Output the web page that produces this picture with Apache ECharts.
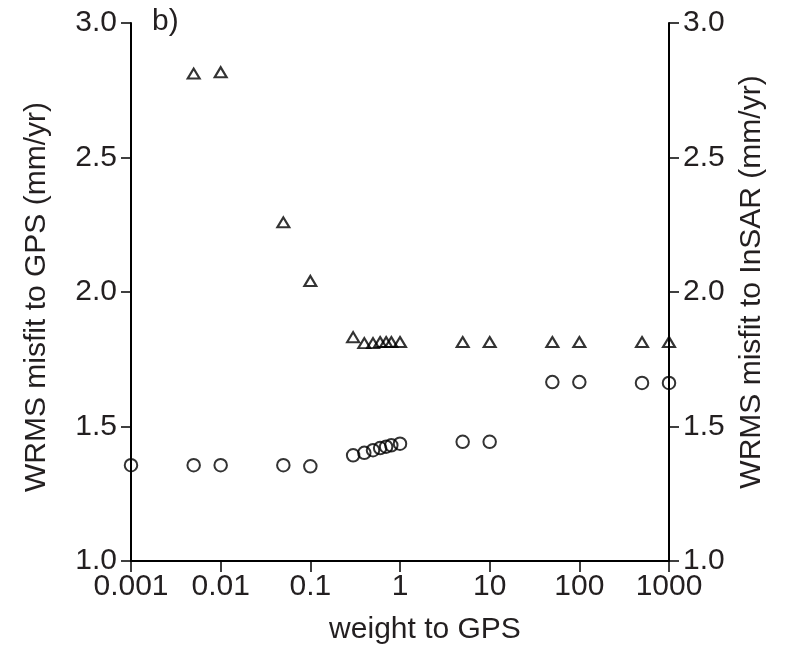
<!DOCTYPE html>
<html>
<head>
<meta charset="utf-8">
<script src="https://cdn.jsdelivr.net/npm/echarts@6/dist/echarts.min.js"></script>
<style>
  html, body { margin: 0; padding: 0; background: #fff; }
  #chart { width: 789px; height: 659px; }
</style>
</head>
<body>
<div id="chart"></div>
<script>
// GPS weights tried in the inversion
const circleWeights = [0.001, 0.005, 0.01, 0.05, 0.1, 0.3, 0.4, 0.5, 0.6, 0.7, 0.8, 1, 5, 10, 50, 100, 500, 1000];
// WRMS misfit to GPS (mm/yr), circles
const gpsMisfit = [1.356, 1.356, 1.356, 1.356, 1.352, 1.393, 1.402, 1.412, 1.420, 1.425, 1.430, 1.436, 1.443, 1.443, 1.665, 1.665, 1.662, 1.662];

const triangleWeights = [0.005, 0.01, 0.05, 0.1, 0.3, 0.4, 0.5, 0.6, 0.7, 0.8, 1, 5, 10, 50, 100, 500, 1000];
// WRMS misfit to InSAR (mm/yr), triangles
const insarMisfit = [2.812, 2.817, 2.259, 2.041, 1.832, 1.810, 1.810, 1.814, 1.814, 1.814, 1.814, 1.814, 1.814, 1.814, 1.814, 1.814, 1.814];

const xTickLabels = { '0.001': '0.001', '0.01': '0.01', '0.1': '0.1', '1': '1', '10': '10', '100': '100', '1000': '1000' };

const FONT = 'Liberation Sans, Arial, sans-serif';
const FS = 30;
const INK = '#231f20';

function pairs(xs, ys) { return xs.map((x, i) => [x, ys[i]]); }

function yAxisDef(pos, name, gap, namePad) {
  return {
    type: 'value',
    position: pos,
    min: 1, max: 3, interval: 0.5,
    name: name,
    nameLocation: 'middle',
    nameGap: gap,
    nameTextStyle: { fontFamily: FONT, fontSize: FS, color: INK, padding: namePad },
    axisLine: { show: true, lineStyle: { color: '#000', width: 2 } },
    axisTick: { show: true, inside: false, length: 10, lineStyle: { color: '#000', width: 1.5 } },
    axisLabel: { fontFamily: FONT, fontSize: FS, color: INK, margin: 14,
                 formatter: v => v.toFixed(1) },
    splitLine: { show: false }
  };
}

const chart = echarts.init(document.getElementById('chart'), null, { renderer: 'canvas' });
chart.setOption({
  backgroundColor: '#fff',
  animation: false,
  grid: { left: 131, right: 120, top: 23, bottom: 98, containLabel: false },
  xAxis: {
    type: 'log', logBase: 10, min: 0.001, max: 1000,
    name: 'weight to GPS',
    nameLocation: 'middle',
    nameGap: 54,
    nameTextStyle: { fontFamily: FONT, fontSize: FS, color: INK, padding: [0, 0, 0, 50] },
    axisLine: { show: true, lineStyle: { color: '#000', width: 2 } },
    axisTick: { show: true, length: 11, lineStyle: { color: '#000', width: 1.5 } },
    minorTick: { show: false },
    axisLabel: { fontFamily: FONT, fontSize: FS, color: INK, margin: 11,
                 formatter: v => {
                   const k = String(+v.toPrecision(3));
                   return xTickLabels[k] !== undefined ? xTickLabels[k] : k;
                 } },
    splitLine: { show: false }
  },
  yAxis: [
    yAxisDef('left', 'WRMS misfit to GPS (mm/yr)', 79, [0, 10, 0, 0]),
    yAxisDef('right', 'WRMS misfit to InSAR (mm/yr)', 68, [0, 0, 0, 20])
  ],
  graphic: [{
    type: 'text', left: 152, top: 7,
    style: { text: 'b)', font: FS + 'px ' + FONT, fill: INK }
  }],
  series: [
    {
      name: 'GPS', type: 'scatter', yAxisIndex: 0, clip: false,
      symbol: 'circle', symbolSize: 12.5,
      itemStyle: { color: 'rgba(0,0,0,0)', borderColor: '#000', borderWidth: 2 },
      data: pairs(circleWeights, gpsMisfit)
    },
    {
      name: 'InSAR', type: 'scatter', yAxisIndex: 1, clip: false,
      symbol: 'triangle', symbolSize: [12, 10],
      itemStyle: { color: 'rgba(0,0,0,0)', borderColor: '#000', borderWidth: 2.1 },
      data: pairs(triangleWeights, insarMisfit)
    }
  ]
});
</script>
</body>
</html>
